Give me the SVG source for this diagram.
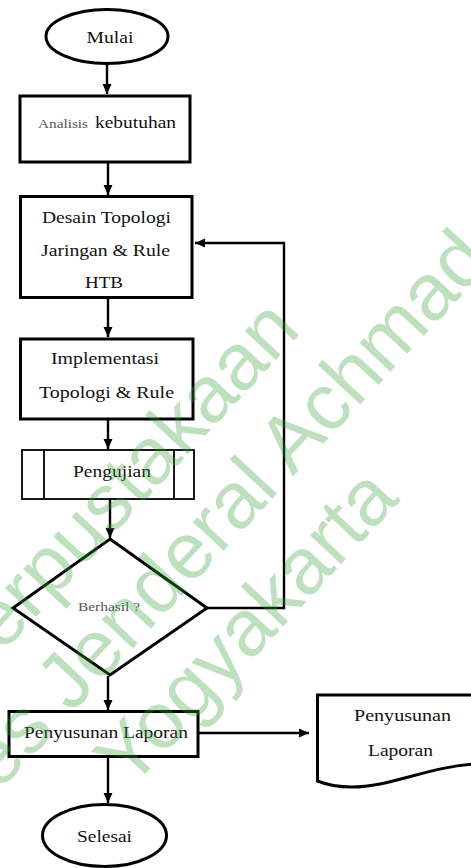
<svg xmlns="http://www.w3.org/2000/svg" width="471" height="868" viewBox="0 0 471 868">
<style>
.sh{fill:#fff;stroke:#000;stroke-width:3}
.thin{fill:#fff;stroke:#000;stroke-width:1.8}
.t{font-family:"Liberation Serif","Times New Roman",serif;font-size:17px;fill:#111;text-anchor:middle}
.g{font-family:"Liberation Serif","Times New Roman",serif;fill:#555}
.c{fill:none;stroke:#000;stroke-width:2.4}
.wm{font-family:"Liberation Sans",Arial,sans-serif;font-size:80px;fill:#3ca03c;fill-opacity:0.33}
</style>
<defs>
<marker id="ah" markerUnits="userSpaceOnUse" markerWidth="10" markerHeight="10" refX="10" refY="5" orient="auto">
<path d="M0,0.5 L10,5 L0,9.5 z" fill="#000"/>
</marker>
</defs>
<rect width="471" height="868" fill="#fff"/>
<g id="connectors">
<line class="c" x1="107" y1="64" x2="107" y2="94" marker-end="url(#ah)"/>
<line class="c" x1="108" y1="162" x2="108" y2="195" marker-end="url(#ah)"/>
<line class="c" x1="108" y1="298" x2="108" y2="337" marker-end="url(#ah)"/>
<line class="c" x1="108" y1="420" x2="108" y2="449" marker-end="url(#ah)"/>
<line class="c" x1="110" y1="500" x2="110" y2="538" marker-end="url(#ah)"/>
<polyline class="c" points="207,608 284,608 284,243 195,243" marker-end="url(#ah)"/>
<line class="c" x1="108" y1="676" x2="108" y2="710" marker-end="url(#ah)"/>
<line class="c" x1="199" y1="733" x2="309" y2="733" marker-end="url(#ah)"/>
<line class="c" x1="108" y1="757" x2="108" y2="803" marker-end="url(#ah)"/>
</g>
<g id="mulai">
<ellipse class="sh" cx="107" cy="36.5" rx="61" ry="27"/>
<text class="t" x="110" y="43" textLength="47" lengthAdjust="spacingAndGlyphs">Mulai</text>
</g>
<g id="analisis">
<rect class="sh" x="20" y="96" width="170" height="66"/>
<text x="38" y="128" class="g" font-size="12" textLength="50" lengthAdjust="spacingAndGlyphs">Analisis</text>
<text x="95" y="128" class="t" style="text-anchor:start" textLength="81" lengthAdjust="spacingAndGlyphs">kebutuhan</text>
</g>
<g id="desain">
<rect class="sh" x="20.5" y="196.5" width="171.5" height="101"/>
<text class="t" x="106.5" y="222.5" textLength="129" lengthAdjust="spacingAndGlyphs">Desain Topologi</text>
<text class="t" x="105.5" y="256" textLength="129" lengthAdjust="spacingAndGlyphs">Jaringan &amp; Rule</text>
<text class="t" x="104" y="288" textLength="38" lengthAdjust="spacingAndGlyphs">HTB</text>
</g>
<g id="implementasi">
<rect class="sh" x="20.5" y="339" width="172.5" height="80"/>
<text class="t" x="105" y="364" textLength="108" lengthAdjust="spacingAndGlyphs">Implementasi</text>
<text class="t" x="106.5" y="398" textLength="135" lengthAdjust="spacingAndGlyphs">Topologi &amp; Rule</text>
</g>
<g id="pengujian">
<rect class="thin" x="22" y="450" width="172" height="49"/>
<line x1="44" y1="450" x2="44" y2="499" stroke="#000" stroke-width="1.8"/>
<line x1="174" y1="450" x2="174" y2="499" stroke="#000" stroke-width="1.8"/>
<text class="t" x="112" y="477" textLength="78" lengthAdjust="spacingAndGlyphs">Pengujian</text>
</g>
<g id="berhasil">
<polygon class="sh" points="110,539 207,608 110,675 13,608"/>
<text class="g" x="109" y="611" font-size="13" text-anchor="middle" textLength="62" lengthAdjust="spacingAndGlyphs">Berhasil ?</text>
</g>
<g id="penyusunan">
<rect class="sh" x="9" y="711.5" width="189" height="45"/>
<text class="t" x="106" y="738" textLength="164" lengthAdjust="spacingAndGlyphs">Penyusunan Laporan</text>
</g>
<g id="dokumen">
<path class="sh" d="M317.5,781 V695 H475 V764 C440,766 410,778 380,784 C355,789 335,788 317.5,781 z"/>
<text class="t" x="402.5" y="721" textLength="97" lengthAdjust="spacingAndGlyphs">Penyusunan</text>
<text class="t" x="400.5" y="756" textLength="65" lengthAdjust="spacingAndGlyphs">Laporan</text>
</g>
<g id="selesai">
<ellipse class="sh" cx="104.5" cy="835.5" rx="62" ry="31"/>
<text class="t" x="104.5" y="842" textLength="55" lengthAdjust="spacingAndGlyphs">Selesai</text>
</g>
<g id="watermark" transform="translate(285,485) rotate(-47)">
<text class="wm" x="124" y="-92" text-anchor="end">erpustakaan</text>
<text class="wm" x="-420" y="0">es Jenderal Achmad</text>
<text class="wm" x="68" y="95" text-anchor="end">Yogyakarta</text>
</g>
</svg>
